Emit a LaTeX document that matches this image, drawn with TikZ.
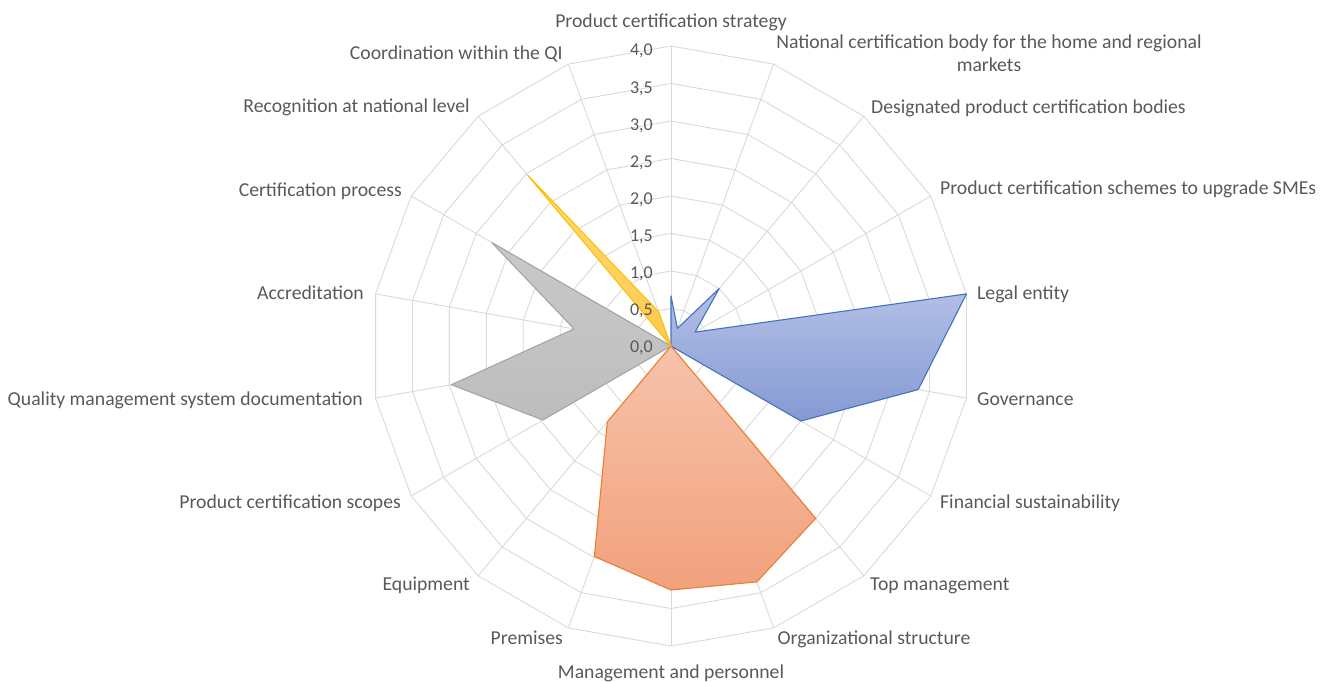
\documentclass[tikz,border=0pt]{standalone}
\usepackage{fontspec}
\setmainfont{Carlito}
\definecolor{txt}{HTML}{595959}
\definecolor{gridc}{HTML}{D9D9D9}
\definecolor{blueE}{HTML}{4472C4}
\definecolor{blueT}{HTML}{B3C0E6}
\definecolor{blueB}{HTML}{8599D3}
\definecolor{orangeE}{HTML}{ED7D31}
\definecolor{orangeT}{HTML}{F6C3AB}
\definecolor{orangeB}{HTML}{F2A17C}
\definecolor{greyE}{HTML}{A5A5A5}
\definecolor{greyT}{HTML}{C9C9C9}
\definecolor{greyB}{HTML}{BDBDBD}
\definecolor{yellowE}{HTML}{FFC000}
\definecolor{yellowT}{HTML}{FFDA7C}
\definecolor{yellowB}{HTML}{FFCA4C}
\begin{document}
\begin{tikzpicture}[x=1pt,y=1pt,
  ax/.style={text=txt, font=\fontsize{19.7}{23}\selectfont, inner sep=0pt},
  val/.style={text=txt, font=\fontsize{18}{20}\selectfont, inner sep=0pt, anchor=east, text height=12pt, text depth=0pt},
  gridline/.style={draw=gridc, line width=0.9pt},
  ser/.style={line width=1.1pt, line join=round}]
\useasboundingbox (-671,-335) rectangle (656,346);
\coordinate (O) at (0,0);
% grid rings
\foreach \i in {1,...,8} {
  \draw[gridline] (90:{37.5*\i}) \foreach \k in {1,...,17} { -- ({90-20*\k}:{37.5*\i}) } -- cycle;
}
% spokes
\foreach \k in {0,...,17} { \draw[gridline] (O) -- ({90-20*\k}:300); }
% series
\path[ser, draw=blueE, top color=blueT, bottom color=blueB]
  (90:50) -- (70:18.75) -- (50:75) -- (30:27.75) -- (10:300) -- (-10:251) -- (-30:150) -- (O) -- cycle;
\path[ser, draw=orangeE, top color=orangeT, bottom color=orangeB]
  (O) -- (-50:225) -- (-70:251) -- (-90:244) -- (-110:224) -- (-130:99) -- cycle;
\path[ser, draw=greyE, top color=greyT, bottom color=greyB]
  (O) -- (-150:148) -- (-170:223) -- (170:98.5) -- (150:207) -- cycle;
\path[ser, draw=yellowE, top color=yellowT, bottom color=yellowB]
  (O) -- (130:223) -- (110:36.5) -- cycle;
% value labels
\node[val] (v0) at (-18,{-0.7+37.1*0}) {0,0};
\node[val] (v1) at (-18,{-0.7+37.1*1}) {0,5};
\node[val] (v2) at (-18,{-0.7+37.1*2}) {1,0};
\node[val] (v3) at (-18,{-0.7+37.1*3}) {1,5};
\node[val] (v4) at (-18,{-0.7+37.1*4}) {2,0};
\node[val] (v5) at (-18,{-0.7+37.1*5}) {2,5};
\node[val] (v6) at (-18,{-0.7+37.1*6}) {3,0};
\node[val] (v7) at (-18,{-0.7+37.1*7}) {3,5};
\node[val] (v8) at (-18,{-0.7+37.1*8}) {4,0};
% axis labels
\node[ax, anchor=base] (a0) at (0,318) {Product certification strategy};
\node[ax, align=center, anchor=center] (a1) at (318,293) {National certification body for the home and regional\\markets};
\node[ax, anchor=base west] (a2) at (200,233) {Designated product certification bodies};
\node[ax, anchor=base west] (a3) at (269,152) {Product certification schemes to upgrade SMEs};
\node[ax, anchor=base west] (a4) at (306,47) {Legal entity};
\node[ax, anchor=base west] (a5) at (306,-59) {Governance};
\node[ax, anchor=base west] (a6) at (269,-162) {Financial sustainability};
\node[ax, anchor=base west] (a7) at (199,-244) {Top management};
\node[ax, anchor=base west] (a8) at (106.5,-298) {Organizational structure};
\node[ax, anchor=base] (a9) at (0,-332) {Management and personnel};
\node[ax, anchor=base east] (a10) at (-108,-298) {Premises};
\node[ax, anchor=base east] (a11) at (-201,-244) {Equipment};
\node[ax, anchor=base east] (a12) at (-270,-162) {Product certification scopes};
\node[ax, anchor=base east] (a13) at (-308,-59) {Quality management system documentation};
\node[ax, anchor=base east] (a14) at (-307,47) {Accreditation};
\node[ax, anchor=base east] (a15) at (-269,150) {Certification process};
\node[ax, anchor=base east] (a16) at (-201,234) {Recognition at national level};
\node[ax, anchor=base east] (a17) at (-108,287) {Coordination within the QI};
\end{tikzpicture}
\end{document}
